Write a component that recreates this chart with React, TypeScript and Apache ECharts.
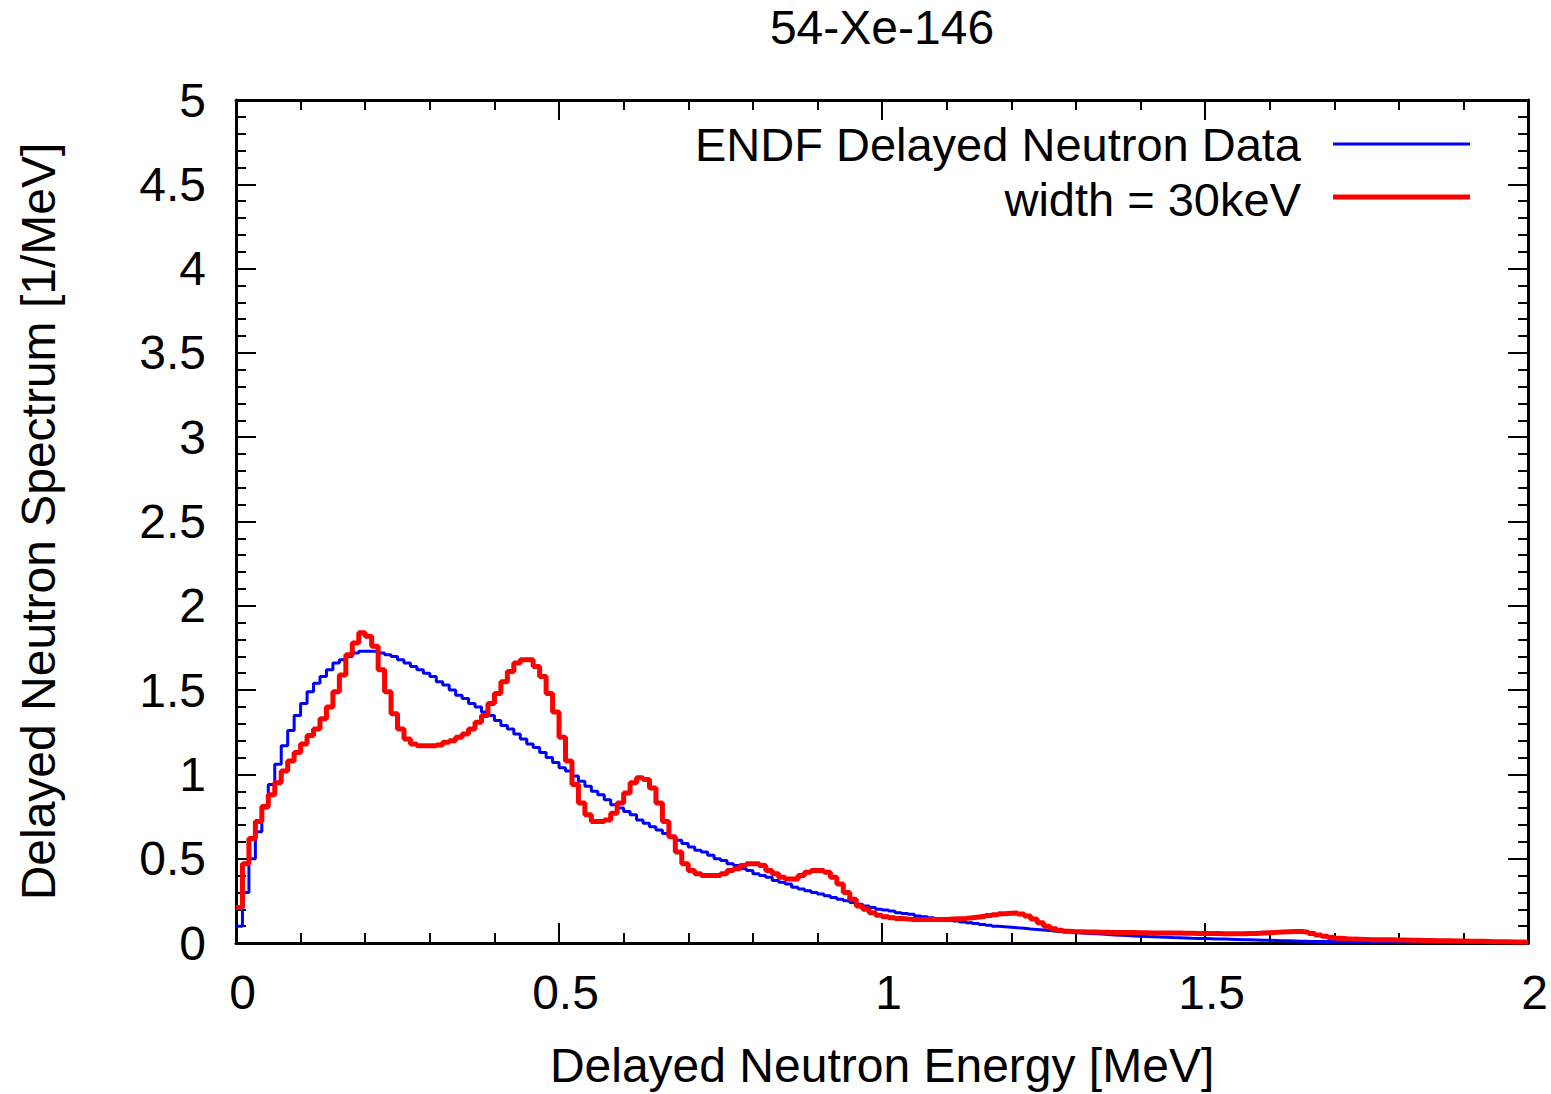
import React, { useEffect, useRef } from "react";
import * as echarts from "echarts";

const TITLE = "54-Xe-146";
const X_NAME = "Delayed Neutron Energy [MeV]";
const Y_NAME = "Delayed Neutron Spectrum [1/MeV]";
const SERIES_NAMES = ["ENDF Delayed Neutron Data", "width = 30keV"];
const BIN_WIDTH = 0.01; // MeV, histogram bin width
const X_TICKS = [0, 0.5, 1, 1.5, 2];
const Y_TICKS = [0, 0.5, 1, 1.5, 2, 2.5, 3, 3.5, 4, 4.5, 5];

// ENDF delayed neutron spectrum, one value per 10 keV bin (0 - 2 MeV)
const endfValues = [
  0.10, 0.30, 0.50, 0.66, 0.80, 0.94, 1.06, 1.17, 1.26, 1.35,
  1.42, 1.49, 1.54, 1.58, 1.62, 1.66, 1.68, 1.70, 1.72, 1.73,
  1.73, 1.73, 1.72, 1.71, 1.70, 1.68, 1.66, 1.64, 1.62, 1.60,
  1.58, 1.55, 1.53, 1.50, 1.47, 1.45, 1.42, 1.40, 1.37, 1.35,
  1.32, 1.29, 1.27, 1.24, 1.21, 1.18, 1.16, 1.13, 1.10, 1.07,
  1.04, 1.02, 0.99, 0.96, 0.93, 0.90, 0.88, 0.85, 0.82, 0.80,
  0.78, 0.76, 0.73, 0.71, 0.69, 0.67, 0.65, 0.63, 0.61, 0.59,
  0.57, 0.55, 0.54, 0.52, 0.50, 0.49, 0.47, 0.46, 0.44, 0.43,
  0.41, 0.40, 0.39, 0.37, 0.36, 0.35, 0.33, 0.32, 0.31, 0.30,
  0.29, 0.28, 0.27, 0.26, 0.25, 0.24, 0.23, 0.22, 0.21, 0.20,
  0.195, 0.19, 0.18, 0.175, 0.17, 0.16, 0.155, 0.15, 0.145, 0.14,
  0.135, 0.13, 0.125, 0.12, 0.115, 0.11, 0.105, 0.10, 0.097, 0.094,
  0.09, 0.087, 0.083, 0.08, 0.077, 0.074, 0.07, 0.067, 0.064, 0.062,
  0.06, 0.057, 0.055, 0.053, 0.05, 0.048, 0.046, 0.044, 0.042, 0.04,
  0.038, 0.037, 0.035, 0.034, 0.032, 0.031, 0.03, 0.028, 0.027, 0.026,
  0.025, 0.024, 0.023, 0.022, 0.021, 0.02, 0.019, 0.018, 0.017, 0.016,
  0.015, 0.014, 0.013, 0.012, 0.011, 0.010, 0.0095, 0.009, 0.0085, 0.008,
  0.0075, 0.007, 0.0067, 0.0064, 0.0061, 0.0058, 0.0055, 0.0052, 0.005, 0.0048,
  0.0046, 0.0044, 0.0042, 0.004, 0.0038, 0.0036, 0.0035, 0.0034, 0.0033, 0.0032,
  0.0031, 0.003, 0.0029, 0.0028, 0.0027, 0.0026, 0.0025, 0.0024, 0.0023, 0.0022,
];

// Spectrum folded with 30 keV width, one value per 10 keV bin (0 - 2 MeV)
const width30Values = [
  0.21, 0.47, 0.62, 0.72, 0.81, 0.88, 0.95, 1.02, 1.08, 1.13,
  1.18, 1.23, 1.27, 1.33, 1.40, 1.49, 1.59, 1.71, 1.78, 1.84,
  1.82, 1.76, 1.62, 1.49, 1.36, 1.27, 1.21, 1.18, 1.17, 1.17,
  1.17, 1.175, 1.19, 1.20, 1.22, 1.24, 1.27, 1.31, 1.35, 1.42,
  1.48, 1.55, 1.61, 1.66, 1.68, 1.68, 1.64, 1.58, 1.48, 1.37,
  1.22, 1.08, 0.94, 0.83, 0.76, 0.72, 0.72, 0.73, 0.77, 0.83,
  0.89, 0.95, 0.98, 0.97, 0.92, 0.83, 0.72, 0.63, 0.54, 0.47,
  0.43, 0.41, 0.40, 0.40, 0.40, 0.41, 0.43, 0.44, 0.46, 0.47,
  0.47, 0.46, 0.43, 0.41, 0.39, 0.38, 0.38, 0.40, 0.42, 0.43,
  0.43, 0.42, 0.39, 0.35, 0.30, 0.26, 0.22, 0.20, 0.18, 0.165,
  0.155, 0.15, 0.145, 0.142, 0.14, 0.14, 0.14, 0.14, 0.14, 0.14,
  0.142, 0.144, 0.146, 0.15, 0.154, 0.158, 0.163, 0.168, 0.173, 0.177,
  0.178, 0.172, 0.16, 0.142, 0.12, 0.10, 0.085, 0.075, 0.07, 0.067,
  0.066, 0.065, 0.065, 0.064, 0.064, 0.063, 0.063, 0.062, 0.062, 0.061,
  0.061, 0.06, 0.06, 0.06, 0.059, 0.059, 0.058, 0.058, 0.057, 0.057,
  0.056, 0.056, 0.055, 0.055, 0.055, 0.055, 0.056, 0.057, 0.059, 0.061,
  0.063, 0.065, 0.067, 0.068, 0.068, 0.064, 0.057, 0.048, 0.04, 0.033,
  0.028, 0.025, 0.023, 0.022, 0.021, 0.02, 0.02, 0.019, 0.019, 0.018,
  0.018, 0.017, 0.016, 0.015, 0.015, 0.014, 0.013, 0.013, 0.012, 0.012,
  0.011, 0.01, 0.01, 0.009, 0.008, 0.008, 0.007, 0.006, 0.006, 0.005,
];

const FONT = "'Liberation Sans', Arial, Helvetica, sans-serif";

function toSteps(values: number[]): number[][] {
  const pts = values.map((v, i) => [+(i * BIN_WIDTH).toFixed(4), v]);
  pts.push([+(values.length * BIN_WIDTH).toFixed(4), values[values.length - 1]]);
  return pts;
}

export default function App() {
  const ref = useRef<HTMLDivElement>(null);

  useEffect(() => {
    if (!ref.current) return;
    const chart = echarts.init(ref.current, null, { renderer: "svg" });

    const xMin = X_TICKS[0];
    const xMax = X_TICKS[X_TICKS.length - 1];
    const xInt = X_TICKS[1] - X_TICKS[0];
    const yMin = Y_TICKS[0];
    const yMax = Y_TICKS[Y_TICKS.length - 1];
    const yInt = Y_TICKS[1] - Y_TICKS[0];

    const axisLine = { show: true, onZero: false, lineStyle: { color: "#000", width: 3 } };
    const axisTick = { show: true, inside: true, length: 20, lineStyle: { color: "#000", width: 2 } };
    const minorTick = { show: true, splitNumber: 5, length: 10, lineStyle: { color: "#000", width: 2 } };
    const labelStyle = { color: "#000", fontSize: 48, fontFamily: FONT };

    chart.setOption({
      animation: false,
      backgroundColor: "#fff",
      title: {
        text: TITLE,
        left: 882,
        top: 3,
        padding: 0,
        textAlign: "center",
        textStyle: { color: "#000", fontSize: 48, fontWeight: "normal", fontFamily: FONT },
      },
      grid: { left: 236, right: 22, top: 100, bottom: 150, containLabel: false },
      xAxis: [
        {
          type: "value",
          min: xMin,
          max: xMax,
          interval: xInt,
          position: "bottom",
          axisLine,
          axisTick,
          minorTick,
          splitLine: { show: false },
          axisLabel: { ...labelStyle, margin: 25, padding: [0, 0, 0, 13] },
          name: X_NAME,
          nameLocation: "middle",
          nameGap: 98,
          nameTextStyle: { color: "#000", fontSize: 48, fontFamily: FONT },
        },
        {
          type: "value",
          min: xMin,
          max: xMax,
          interval: xInt,
          position: "top",
          axisLine,
          axisTick,
          minorTick,
          splitLine: { show: false },
          axisLabel: { show: false },
        },
      ],
      yAxis: [
        {
          type: "value",
          min: yMin,
          max: yMax,
          interval: yInt,
          position: "left",
          axisLine,
          axisTick,
          minorTick,
          splitLine: { show: false },
          axisLabel: { ...labelStyle, margin: 30 },
          name: Y_NAME,
          nameLocation: "middle",
          nameGap: 174,
          nameTextStyle: { color: "#000", fontSize: 48, fontFamily: FONT },
        },
        {
          type: "value",
          min: yMin,
          max: yMax,
          interval: yInt,
          position: "right",
          axisLine,
          axisTick,
          minorTick,
          splitLine: { show: false },
          axisLabel: { show: false },
        },
      ],
      series: [
        {
          name: SERIES_NAMES[0],
          type: "line",
          step: "end",
          xAxisIndex: 0,
          yAxisIndex: 0,
          showSymbol: false,
          symbol: "none",
          lineStyle: { color: "#0000ff", width: 3 },
          itemStyle: { color: "#0000ff" },
          data: toSteps(endfValues),
          z: 3,
        },
        {
          name: SERIES_NAMES[1],
          type: "line",
          step: "end",
          xAxisIndex: 0,
          yAxisIndex: 0,
          showSymbol: false,
          symbol: "none",
          lineStyle: { color: "#ff0000", width: 5 },
          itemStyle: { color: "#ff0000" },
          data: toSteps(width30Values),
          z: 4,
        },
      ],
      graphic: [
        {
          type: "text",
          x: 1301,
          y: 144,
          style: {
            text: SERIES_NAMES[0],
            fill: "#000",
            fontSize: 47,
            fontFamily: FONT,
            textAlign: "right",
            textVerticalAlign: "middle",
          },
        },
        {
          type: "line",
          shape: { x1: 1333, y1: 144, x2: 1470, y2: 144 },
          style: { stroke: "#0000ff", lineWidth: 3 },
        },
        {
          type: "text",
          x: 1301,
          y: 199,
          style: {
            text: SERIES_NAMES[1],
            fill: "#000",
            fontSize: 47,
            fontFamily: FONT,
            textAlign: "right",
            textVerticalAlign: "middle",
          },
        },
        {
          type: "line",
          shape: { x1: 1333, y1: 197, x2: 1470, y2: 197 },
          style: { stroke: "#ff0000", lineWidth: 5 },
        },
      ],
    });

    return () => chart.dispose();
  }, []);

  return (
    <div
      ref={ref}
      style={{ position: "fixed", left: 0, top: 0, width: 1551, height: 1094, background: "#fff" }}
    />
  );
}
